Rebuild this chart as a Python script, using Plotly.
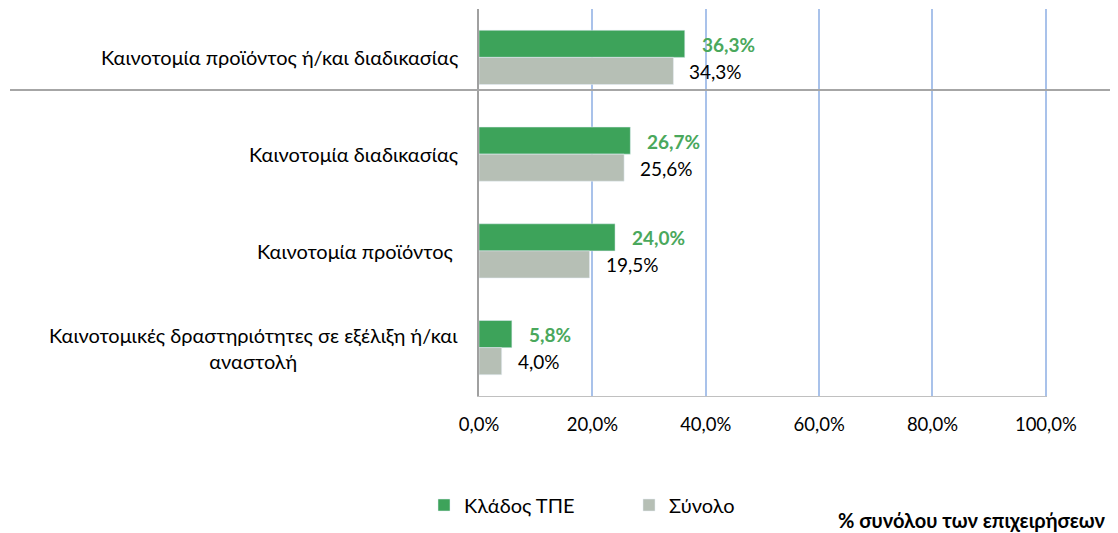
import plotly.graph_objects as go

categories = [
    "Καινοτομία προϊόντος ή/και διαδικασίας",
    "Καινοτομία διαδικασίας",
    "Καινοτομία προϊόντος ",
    "Καινοτομικές δραστηριότητες σε εξέλιξη ή/και<br>αναστολή",
]
series_names = ["Κλάδος ΤΠΕ", "Σύνολο"]
ict_values = [36.3, 26.7, 24.0, 5.8]
total_values = [34.3, 25.6, 19.5, 4.0]
x_ticks = [0, 20, 40, 60, 80, 100]
x_tick_labels = ["0,0%", "20,0%", "40,0%", "60,0%", "80,0%", "100,0%"]
axis_note = "% συνόλου των επιχειρήσεων"

FONT = "Lato"
FS_CAT = 20
FS_NUM = 19
FS_TICK = 18.5
GREEN = "#3da35a"
GREEN_TXT = "#4aa85c"
GRAY = "#b6bfb5"

# page body offset (default browser margin)
OX, OY = 8, 8
W, H = 1118 - OX, 533 - OY
# plot area in window pixels: x 479..1047, y 9..396
L = 479 - OX
T = 9 - OY
R = W - (1047 - OX)
B = H - (396 - OY)
pw = W - L - R
ph = H - T - B

def px_to_paper_x(px):
    return (px - OX - L) / pw

def px_to_paper_y(py):
    return (T + ph - (py - OY)) / ph

def fmt(v):
    return f"{v:.1f}".replace(".", ",") + "%"

fig = go.Figure()
fig.add_trace(go.Bar(
    y=categories, x=ict_values, orientation="h", name=series_names[0],
    marker=dict(color=GREEN), hoverinfo="x+y",
))
fig.add_trace(go.Bar(
    y=categories, x=total_values, orientation="h", name=series_names[1],
    marker=dict(color=GRAY), hoverinfo="x+y",
))

annotations = []
for cat, v in zip(categories, ict_values):
    annotations.append(dict(x=v, y=cat, xref="x", yref="y", text=f"<b>{fmt(v)}</b>",
                            showarrow=False, xanchor="left", yanchor="middle",
                            xshift=15, yshift=13,
                            font=dict(family=FONT, size=FS_NUM, color=GREEN_TXT)))
for cat, v in zip(categories, total_values):
    annotations.append(dict(x=v, y=cat, xref="x", yref="y", text=fmt(v),
                            showarrow=False, xanchor="left", yanchor="middle",
                            xshift=14, yshift=-14,
                            font=dict(family=FONT, size=FS_NUM, color="#000000")))
for cat in categories:
    annotations.append(dict(x=0, y=cat, xref="paper", yref="y", text=cat,
                            showarrow=False, xanchor="right", yanchor="middle",
                            align="center", xshift=-19,
                            font=dict(family=FONT, size=FS_CAT, color="#000000")))

annotations.append(dict(x=px_to_paper_x(1108), y=px_to_paper_y(520), xref="paper", yref="paper",
                        text=f"<b>{axis_note}</b>", showarrow=False,
                        xanchor="right", yanchor="middle",
                        font=dict(family=FONT, size=20, color="#000000")))

fig.update_layout(
    width=W, height=H,
    margin=dict(l=L, r=R, t=T, b=B, pad=0),
    paper_bgcolor="white", plot_bgcolor="white",
    font=dict(family=FONT, size=FS_CAT, color="#000000"),
    barmode="group", bargap=0.44, bargroupgap=0,
    showlegend=True,
    legend=dict(orientation="h", x=(464 - OX - 40) / W, xref="container", xanchor="left",
                y=1 - (505 - OY) / H, yref="container", yanchor="middle",
                entrywidth=160, entrywidthmode="pixels",
                font=dict(family=FONT, size=FS_CAT, color="#000000"),
                traceorder="normal"),
    annotations=annotations,
    shapes=[dict(type="line", xref="paper", yref="paper",
                 x0=px_to_paper_x(10), x1=px_to_paper_x(1118),
                 y0=px_to_paper_y(90), y1=px_to_paper_y(90),
                 line=dict(color="#a6a6a6", width=2), layer="above")],
)
fig.update_xaxes(range=[0, 100.2], tickvals=x_ticks, ticktext=x_tick_labels,
                 showgrid=True, gridcolor="#a9c2ea", gridwidth=2,
                 zeroline=False, showline=True, linecolor="#c0c0c0", linewidth=1,
                 ticks="", ticklabelstandoff=12,
                 tickfont=dict(family=FONT, size=FS_TICK, color="#000000"), fixedrange=True)
fig.update_yaxes(autorange="reversed", showticklabels=False, ticks="",
                 showgrid=False, zeroline=False, showline=True,
                 linecolor="#a0a0a0", linewidth=2, fixedrange=True)

fig.write_html("out.html")
